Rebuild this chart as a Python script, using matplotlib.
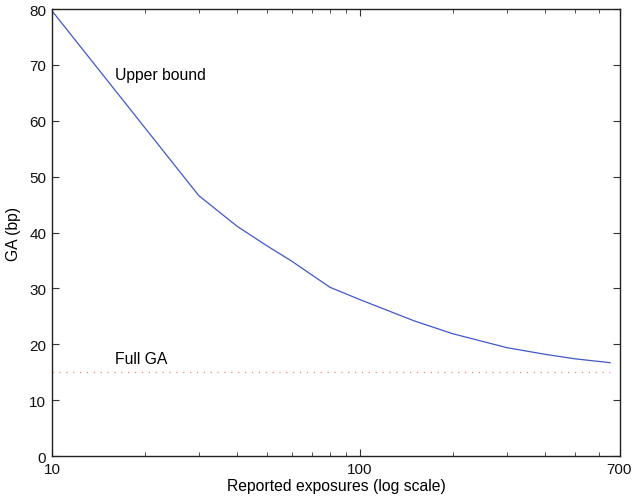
import matplotlib
matplotlib.use("Agg")
import matplotlib.pyplot as plt
from matplotlib.ticker import FixedLocator, NullFormatter, FixedFormatter

plt.rcParams['font.family'] = ['Liberation Sans', 'DejaVu Sans']

exposures = [10, 30, 40, 50, 60, 80, 100, 150, 200, 300, 400, 500, 650]
upper_bound = [79.7, 46.6, 41.1, 37.6, 34.9, 30.2, 28.0, 24.2, 21.9, 19.4, 18.2, 17.4, 16.7]
full_ga_x = [10, 650]
full_ga_y = [15, 15]

x_major = [10, 100, 700]
x_major_labels = ['10', '100', '700']
x_minor = [20, 30, 40, 50, 60, 70, 80, 90, 200, 300, 400, 500, 600]
y_ticks = [0, 10, 20, 30, 40, 50, 60, 70, 80]

fs = 11.3
tfs = 11.0

fig = plt.figure(figsize=(6.33, 5.02), dpi=100)
ax = fig.add_axes([0.082, 0.0896, 0.8975, 0.8904])

ax.plot(exposures, upper_bound, color='#4158c8', linewidth=0.9)
ax.plot(full_ga_x, full_ga_y, color='#ee8866', linewidth=0.9, linestyle=(0, (1, 4.5)))

ax.set_xscale('log')
ax.set_xlim(10, 700)
ax.set_ylim(0, 80)
ax.xaxis.set_major_locator(FixedLocator(x_major))
ax.xaxis.set_major_formatter(FixedFormatter(x_major_labels))
ax.xaxis.set_minor_locator(FixedLocator(x_minor))
ax.xaxis.set_minor_formatter(NullFormatter())
ax.set_yticks(y_ticks)

ax.tick_params(which='both', direction='in', top=True, right=True, labelsize=tfs,
               color='#333333', labelcolor='#111111')
ax.tick_params(which='major', length=5, width=0.8)
ax.tick_params(which='minor', length=3, width=0.6)
ax.tick_params(axis='x', pad=4)
ax.tick_params(axis='y', pad=4)
for s in ax.spines.values():
    s.set_linewidth(1.0)
    s.set_color('#222222')

# keep the last x tick label inside the figure
lbls = ax.get_xticklabels()
lbls[-1].set_horizontalalignment('right')
lbls[-1].set_x(700)

ax.text(16.0, 68.3, 'Upper bound', fontsize=fs, ha='left', va='center')
ax.text(16.0, 17.4, 'Full GA', fontsize=fs, ha='left', va='center')

ax.set_xlabel('Reported exposures (log scale)', fontsize=fs, labelpad=2)
ax.set_ylabel('GA (bp)', fontsize=fs, labelpad=6)

fig.canvas.draw()
import matplotlib.transforms as mtransforms
offset = mtransforms.ScaledTranslation(12 / 100, 0, fig.dpi_scale_trans)
lab = ax.get_xticklabels()[-1]
lab.set_horizontalalignment('right')
lab.set_transform(lab.get_transform() + offset)

fig.savefig('out.png', dpi=100)
